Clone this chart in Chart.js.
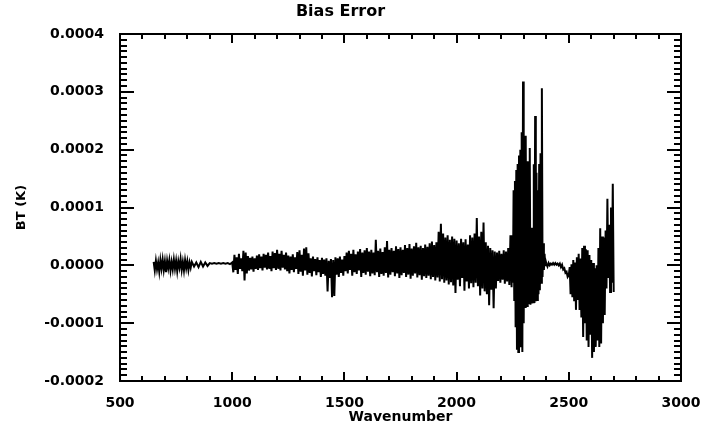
<!DOCTYPE html>
<html lang="en">
  <head>
    <meta charset="UTF-8" />
    <title>Bias Error</title>
    <script src="https://cdn.jsdelivr.net/npm/chart.js"></script>
    <style>
      body {
        margin: 0;
        background: #fff;
      }
    </style>
  </head>
  <body>
    <canvas id="biasChart" width="704" height="434"></canvas>
    <script>
      // Wavenumber (cm-1) and bias error in micro-Kelvin
      const wavenumber = [
        650, 655, 660, 665, 670, 675, 680, 685, 690, 695, 700, 705, 710, 715, 720, 725, 730, 735, 740, 745,
        750, 755, 760, 765, 770, 775, 780, 785, 790, 795, 800, 805, 810, 815, 820, 830, 840, 850, 860, 870,
        880, 890, 900, 910, 920, 930, 940, 950, 960, 970, 980, 990, 1000,
        1005, 1010, 1015, 1020, 1025, 1030, 1035, 1040, 1045, 1050, 1055, 1060, 1065, 1070, 1075, 1080, 1085, 1090, 1095, 1100,
        1105, 1110, 1115, 1120, 1125, 1130, 1135, 1140, 1145, 1150, 1155, 1160, 1165, 1170, 1175, 1180, 1185, 1190, 1195, 1200,
        1205, 1210, 1215, 1220, 1225, 1230, 1235, 1240, 1245, 1250, 1255, 1260, 1265, 1270, 1275, 1280, 1285, 1290, 1295, 1300,
        1305, 1310, 1315, 1320, 1325, 1330, 1335, 1340, 1345, 1350, 1355, 1360, 1365, 1370, 1375, 1380, 1385, 1390, 1395, 1400,
        1405, 1410, 1415, 1420, 1425, 1430, 1435, 1440, 1445, 1450, 1455, 1460, 1465, 1470, 1475, 1480, 1485, 1490, 1495, 1500,
        1505, 1510, 1515, 1520, 1525, 1530, 1535, 1540, 1545, 1550, 1555, 1560, 1565, 1570, 1575, 1580, 1585, 1590, 1595, 1600,
        1605, 1610, 1615, 1620, 1625, 1630, 1635, 1640, 1645, 1650, 1655, 1660, 1665, 1670, 1675, 1680, 1685, 1690, 1695, 1700,
        1705, 1710, 1715, 1720, 1725, 1730, 1735, 1740, 1745, 1750, 1755, 1760, 1765, 1770, 1775, 1780, 1785, 1790, 1795, 1800,
        1805, 1810, 1815, 1820, 1825, 1830, 1835, 1840, 1845, 1850, 1855, 1860, 1865, 1870, 1875, 1880, 1885, 1890, 1895, 1900,
        1905, 1910, 1915, 1920, 1925, 1930, 1935, 1940, 1945, 1950, 1955, 1960, 1965, 1970, 1975, 1980, 1985, 1990, 1995, 2000,
        2005, 2010, 2015, 2020, 2025, 2030, 2035, 2040, 2045, 2050, 2055, 2060, 2065, 2070, 2075, 2080, 2085, 2090, 2095, 2100,
        2105, 2110, 2115, 2120, 2125, 2130, 2135, 2140, 2145, 2150, 2155, 2160, 2165, 2170, 2175, 2180, 2185, 2190, 2195, 2200,
        2205, 2210, 2215, 2220, 2225, 2230, 2235, 2240, 2245,
        2248, 2251, 2254, 2257, 2260, 2263, 2266, 2269, 2272, 2275, 2278, 2281, 2284, 2287, 2290, 2293, 2296, 2299, 2302, 2305,
        2308, 2311, 2314, 2317, 2320, 2323, 2326, 2329, 2332, 2335, 2338, 2341, 2344, 2347, 2350, 2353, 2356, 2359, 2362, 2365,
        2368, 2371, 2374, 2377, 2380, 2383, 2386, 2389, 2392, 2395, 2398,
        2400, 2405, 2410, 2415, 2420, 2425, 2430, 2435, 2440, 2445, 2450, 2455, 2460, 2465, 2470, 2475, 2480, 2485, 2490, 2495, 2500,
        2504, 2508, 2512, 2516, 2520, 2524, 2528, 2532, 2536, 2540, 2544, 2548, 2552, 2556, 2560, 2564, 2568, 2572, 2576, 2580,
        2584, 2588, 2592, 2596, 2600, 2604, 2608, 2612, 2616, 2620, 2624, 2628, 2632, 2636, 2640, 2644, 2648, 2652, 2656, 2660,
        2664, 2668, 2672, 2676, 2680, 2684, 2688, 2692, 2696, 2700
      ];
      const biasMicroK = [
        6, -9, 8, -7, 5, -11, 9, -6, 10, -8, 7, -12, 8, -5, 9, -9, 6, -7, 10, -6,
        8, -10, 7, -4, 11, -8, 6, -9, 9, -5, 7, -8, 5, -4, 6, -2, 5, -3, 6, -2,
        5, -1, 4, 3, 4, 3, 4, 3, 4, 3, 4, 2, 5,
        -12, 18, -8, 14, -15, 20, -6, 12, -10, 25, -26, 22, -14, 16, -9, 13, -7, 15, -11, 12,
        -6, 17, -8, 19, -5, 15, -9, 20, -4, 18, -7, 22, -6, 16, -10, 24, -5, 21, -8, 27,
        -6, 20, -9, 25, -4, 18, -7, 22, -10, 17, -14, 15, -8, 19, -12, 14, -6, 23, -15, 26,
        -11, 18, -18, 29, -9, 31, -16, 21, -13, 12, -19, 15, -10, 11, -17, 14, -12, 9, -20, 13,
        -15, 10, -18, 12, -45, 8, -22, 11, -55, 9, -53, 14, -16, 12, -20, 15, -13, 10, -18, 16,
        -10, 22, -14, 25, -8, 20, -18, 27, -12, 19, -15, 24, -9, 28, -20, 22, -13, 26, -16, 30,
        -11, 24, -19, 27, -14, 22, -17, 44, -12, 25, -20, 29, -15, 23, -18, 31, -13, 42, -21, 27,
        -16, 30, -12, 25, -19, 33, -14, 28, -22, 31, -17, 27, -13, 35, -20, 30, -16, 37, -23, 29,
        -18, 33, -14, 39, -21, 31, -17, 34, -25, 30, -19, 36, -22, 32, -18, 38, -24, 41, -20, 35,
        -26, 40, -21, 58, -28, 72, -24, 55, -30, 48, -26, 52, -33, 44, -29, 50, -35, 46, -48, 43,
        -25, 38, -36, 46, -22, 40, -44, 45, -28, 36, -40, 52, -31, 48, -38, 55, -30, 82, -36, 50,
        -52, 58, -40, 74, -45, 40, -50, 34, -69, 30, -42, 26, -74, 24, -40, 22, -27, 25, -30, 20,
        -25, 26, -32, 24, -28, 30, -34, 52, -38,
        52, -30, 130, -60, 146, -107, 165, -146, 175, -150, 190, -120, 200, -140, 230, -150, 318, -100, 175, -72,
        224, -70, 180, -72, 150, -65, 203, -68, 65, -66, 60, -64, 175, -65, 258, -62, 160, -60, 130, -50,
        175, -43, 194, -30, 306, -20, 38, -8, 20, 0, 6,
        3, -2, 4, 0, 3, 1, 4, 1, 4, 1, 3, 0, 3, -3, 1, -7, -5, -13, -11, -20, -17,
        -3, -50, 2, -55, 9, -62, 5, -77, 14, -60, 20, -77, 12, -90, 30, -124, 34, -100, 28, -130,
        26, -141, 18, -120, 9, -160, 4, -150, -5, -141, 0, -130, 30, -141, 64, -135, 50, -100, 48, -86,
        60, -40, 115, -22, 70, -46, 100, -30, 141, -46
      ];
      const xTicks = [500, 1000, 1500, 2000, 2500, 3000];
      const yTicks = [-0.0002, -0.0001, 0, 0.0001, 0.0002, 0.0003, 0.0004];

      const points = wavenumber.map((w, i) => ({ x: w, y: biasMicroK[i] * 1e-6 }));

      // IDL style box: frame on all four sides, ticks pointing inward
      const idlFrame = {
        id: "idlFrame",
        afterDraw(chart) {
          const c = chart.ctx;
          const a = chart.chartArea;
          const sx = chart.scales.x;
          const sy = chart.scales.y;
          c.save();
          c.fillStyle = "#000";
          // x: major every 500, minor every 100
          for (let v = 500; v <= 3000; v += 100) {
            const px = Math.round(sx.getPixelForValue(v)) - 1;
            const len = v % 500 === 0 ? 9 : 5;
            c.fillRect(px, a.bottom - len, 2, len);
            c.fillRect(px, a.top, 2, len);
          }
          // y: major every 0.0001, minor every 0.00001
          for (let k = -20; k <= 40; k++) {
            const py = Math.round(sy.getPixelForValue(k * 1e-5)) - 1;
            const len = k % 10 === 0 ? 14 : 7;
            c.fillRect(a.left, py, len, 2);
            c.fillRect(a.right - len, py, len, 2);
          }
          c.strokeStyle = "#000";
          c.lineWidth = 2;
          c.strokeRect(a.left, a.top, a.right - a.left, a.bottom - a.top);
          c.restore();
        },
      };

      new Chart(document.getElementById("biasChart"), {
        type: "scatter",
        data: {
          datasets: [
            {
              data: points,
              showLine: true,
              borderColor: "#000",
              borderWidth: 2,
              pointRadius: 0,
              tension: 0,
            },
          ],
        },
        options: {
          responsive: false,
          animation: false,
          layout: { padding: { left: 0, right: 23, top: 0, bottom: 0 } },
          plugins: {
            legend: { display: false },
            tooltip: { enabled: false },
            title: {
              display: true,
              text: "Bias Error",
              color: "#000",
              font: { family: "DejaVu Sans", size: 16, weight: "bold" },
              padding: { top: 2, bottom: 12.8 },
            },
          },
          scales: {
            x: {
              type: "linear",
              min: 500,
              max: 3000,
              afterBuildTicks: (s) => {
                s.ticks = xTicks.map((v) => ({ value: v }));
              },
              afterFit: (s) => {
                s.height = 53;
                s.paddingLeft = 0;
                s.paddingRight = 0;
              },
              grid: { display: false },
              border: { display: false },
              ticks: {
                color: "#000",
                padding: 6,
                maxRotation: 0,
                font: { family: "DejaVu Sans", size: 14, weight: "bold" },
                callback: (v) => String(v),
              },
              title: {
                display: true,
                text: "Wavenumber",
                color: "#000",
                padding: { top: 0, bottom: 8 },
                font: { family: "DejaVu Sans", size: 14, weight: "bold" },
              },
            },
            y: {
              min: -0.0002,
              max: 0.0004,
              afterBuildTicks: (s) => {
                s.ticks = yTicks.map((v) => ({ value: v }));
              },
              afterFit: (s) => {
                s.width = 120;
                s.paddingTop = 0;
                s.paddingBottom = 0;
              },
              grid: { display: false },
              border: { display: false },
              ticks: {
                color: "#000",
                padding: 8,
                font: { family: "DejaVu Sans", size: 14, weight: "bold" },
                callback: (v) => v.toFixed(4),
              },
              title: {
                display: true,
                text: "BT (K)",
                color: "#000",
                padding: { top: 14, bottom: 0 },
                font: { family: "DejaVu Sans", size: 13, weight: "bold" },
              },
            },
          },
        },
        plugins: [idlFrame],
      });
    </script>
  </body>
</html>
